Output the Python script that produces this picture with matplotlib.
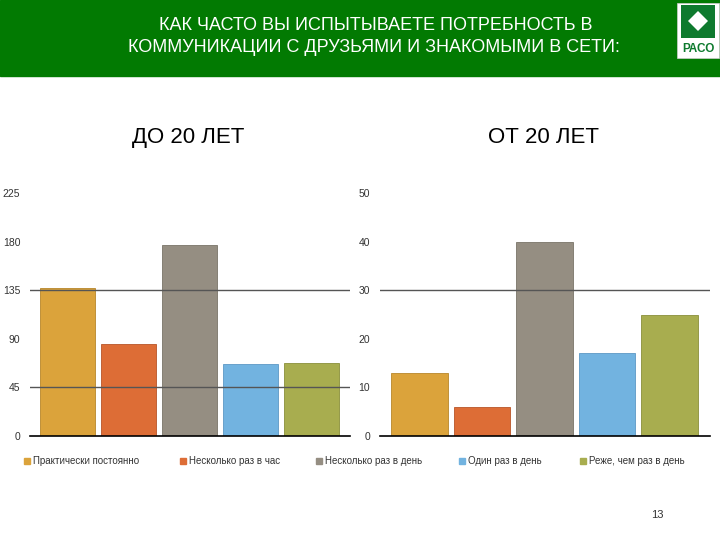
import matplotlib.pyplot as plt
from matplotlib.patches import Rectangle, Polygon

plt.rcParams['font.family'] = ['Liberation Sans', 'DejaVu Sans']

# data
categories = ['Практически постоянно', 'Несколько раз в час', 'Несколько раз в день',
              'Один раз в день', 'Реже, чем раз в день']
under_20 = [137, 85, 177, 67, 68]
over_20 = [13, 6, 40, 17, 25]
left_ticks = [0, 45, 90, 135, 180, 225]
right_ticks = [0, 10, 20, 30, 40, 50]
colors = ['#DBA33B', '#DD6D36', '#958E82', '#72B3E0', '#A8AD4F']
edges = ['#B8862A', '#B85528', '#7A7468', '#5D98C4', '#8A8F3A']

W, H = 720, 540
fig = plt.figure(figsize=(7.2, 5.4), dpi=100)

# header bar
fig.patches.append(Rectangle((0, 1 - 76 / H), 1, 76 / H, transform=fig.transFigure,
                             color='#027A02', zorder=0))
fig.text(376 / W, 1 - 26 / H, 'КАК ЧАСТО ВЫ ИСПЫТЫВАЕТЕ ПОТРЕБНОСТЬ В',
         color='white', fontsize=13, ha='center', va='center')
fig.text(374 / W, 1 - 48 / H, 'КОММУНИКАЦИИ С ДРУЗЬЯМИ И ЗНАКОМЫМИ В СЕТИ:',
         color='white', fontsize=13, ha='center', va='center')

# logo
fig.patches.append(Rectangle((677 / W, 1 - 58 / H), 42 / W, 55 / H, transform=fig.transFigure,
                             facecolor='white', edgecolor='#cfcfcf', lw=0.5, zorder=1))
fig.patches.append(Rectangle((681 / W, 1 - 38 / H), 34 / W, 33 / H, transform=fig.transFigure,
                             facecolor='#0E7A2E', zorder=2))
fig.patches.append(Polygon([(688 / W, 1 - 21 / H), (698 / W, 1 - 11 / H), (708 / W, 1 - 21 / H),
                            (698 / W, 1 - 31 / H)], closed=True, transform=fig.transFigure,
                           facecolor='white', zorder=3))
fig.text(698 / W, 1 - 49 / H, 'РАСО', color='#0E7A2E', fontsize=8.5, fontweight='bold',
         ha='center', va='center')

# subtitles
fig.text(188 / W, 1 - 137 / H, 'ДО 20 ЛЕТ', fontsize=16, ha='center', va='center')
fig.text(543 / W, 1 - 137 / H, 'ОТ 20 ЛЕТ', fontsize=16, ha='center', va='center')


def panel(rect, values, ticks, lines, xlim):
    ax = fig.add_axes(rect)
    x = range(len(values))
    ax.bar(x, values, width=0.9, color=colors, edgecolor=edges, linewidth=0.6, zorder=2)
    for v in lines:
        ax.axhline(v, color='#555555', lw=1.0, zorder=3)
    ax.set_ylim(ticks[0], ticks[-1])
    ax.set_xlim(*xlim)
    ax.set_yticks(ticks)
    ax.tick_params(axis='y', length=0, labelsize=7.5, pad=7, labelcolor='#333333')
    ax.set_xticks([])
    for s in ['top', 'right', 'left']:
        ax.spines[s].set_visible(False)
    ax.spines['bottom'].set_linewidth(1.2)
    ax.spines['bottom'].set_zorder(4)
    return ax


panel([30 / W, 1 - 436 / H, 320 / W, 243 / H], under_20, left_ticks, [45, 135], (-0.62, 4.63))
panel([380 / W, 1 - 436 / H, 330 / W, 243 / H], over_20, right_ticks, [30], (-0.63, 4.65))

# legend
leg_x = [27, 183, 319, 462, 583]
for lx, lab, c in zip(leg_x, categories, colors):
    fig.patches.append(Rectangle(((lx - 3) / W, 1 - 464 / H), 6 / W, 6 / H,
                                 transform=fig.transFigure, color=c))
    fig.text((lx + 6) / W, 1 - 461 / H, lab, fontsize=7, color='#333333', ha='left', va='center')

fig.text(657 / W, 1 - 515 / H, '13', fontsize=8, color='#333333', ha='center', va='center')

fig.savefig('out.png', dpi=100)
